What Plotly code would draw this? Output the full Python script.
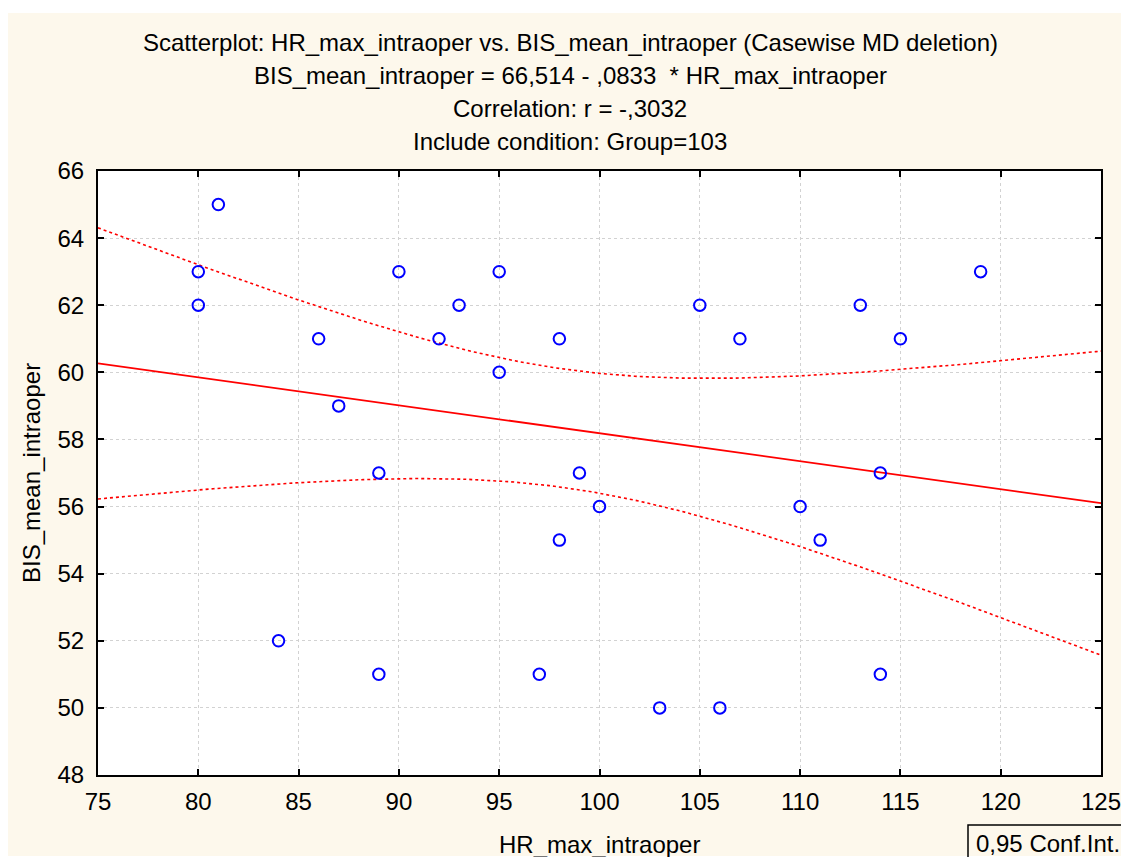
import numpy as np
import plotly.graph_objects as go

# Observations (Group=103)
hr_max = [80, 80, 81, 84, 86, 87, 89, 89, 90, 92, 93, 95, 95, 97, 98,
          98, 99, 100, 103, 105, 106, 107, 110, 111, 113, 114, 114, 115, 119]
bis_mean = [63, 62, 65, 52, 61, 59, 57, 51, 63, 61, 62, 63, 60, 51, 61,
            55, 57, 56, 50, 62, 50, 61, 56, 55, 62, 57, 51, 61, 63]

# Fitted regression as reported
intercept = 66.514
slope = -0.0833
t_crit = 2.0518  # t(0.975, df=27)

x_ticks = [75, 80, 85, 90, 95, 100, 105, 110, 115, 120, 125]
y_ticks = [48, 50, 52, 54, 56, 58, 60, 62, 64, 66]

title_lines = [
    "Scatterplot: HR_max_intraoper vs. BIS_mean_intraoper (Casewise MD deletion)",
    "BIS_mean_intraoper = 66,514 - ,0833  * HR_max_intraoper",
    "Correlation: r = -,3032",
    "Include condition: Group=103",
]
x_title = "HR_max_intraoper"
y_title = "BIS_mean_intraoper"
legend_text = "0,95 Conf.Int."

x = np.array(hr_max, dtype=float)
y = np.array(bis_mean, dtype=float)
n = len(x)
x_mean = x.mean()
sxx = ((x - x_mean) ** 2).sum()
resid = y - (intercept + slope * x)
s = np.sqrt((resid ** 2).sum() / (n - 2))

xs = np.linspace(75, 125, 201)
fit = intercept + slope * xs
half = t_crit * s * np.sqrt(1.0 / n + (xs - x_mean) ** 2 / sxx)

FONT = "Liberation Sans, Arial, sans-serif"
FS = 24
CREAM = "#FDF8EC"

# Pixel geometry of the plotting area
W, H = 1121, 857
L, R, T, B = 98, 20, 171, 82
PW, PH = W - L - R, H - T - B


def px(xp):
    return (xp - L) / PW


def py(yp):
    return (H - B - yp) / PH


fig = go.Figure()

fig.add_trace(go.Scatter(x=xs, y=fit + half, mode="lines",
                         line=dict(color="#FF0000", width=1.6, dash="dot"),
                         hoverinfo="skip"))
fig.add_trace(go.Scatter(x=xs, y=fit - half, mode="lines",
                         line=dict(color="#FF0000", width=1.6, dash="dot"),
                         hoverinfo="skip"))
fig.add_trace(go.Scatter(x=xs, y=fit, mode="lines",
                         line=dict(color="#FF0000", width=1.8),
                         hoverinfo="skip"))
fig.add_trace(go.Scatter(x=hr_max, y=bis_mean, mode="markers",
                         marker=dict(symbol="circle-open", size=11.5,
                                     color="#0000FF", line=dict(width=2))))

axis_common = dict(
    showline=True, linecolor="black", linewidth=2, mirror="ticks",
    ticks="inside", ticklen=6, tickwidth=2, tickcolor="black",
    showgrid=True, gridcolor="#D2D2D2", gridwidth=1, griddash="dot",
    zeroline=False, automargin=False, ticklabeloverflow="allow",
    tickfont=dict(family=FONT, size=FS, color="black"),
)

fig.update_xaxes(range=[75, 125], tickvals=x_ticks,
                 ticktext=[str(v) for v in x_ticks],
                 ticklabelstandoff=4, **axis_common)
fig.update_yaxes(range=[48, 66], tickvals=y_ticks,
                 ticktext=[str(v) for v in y_ticks],
                 ticklabelstandoff=7, **axis_common)

shapes = [
    # white border strips outside the cream frame (left, top, bottom)
    dict(type="rect", xref="paper", yref="paper", layer="below",
         x0=px(-20), x1=px(8), y0=py(880), y1=py(-20),
         fillcolor="white", line=dict(width=0)),
    dict(type="rect", xref="paper", yref="paper", layer="below",
         x0=px(-20), x1=px(1140), y0=py(13), y1=py(-20),
         fillcolor="white", line=dict(width=0)),
    dict(type="rect", xref="paper", yref="paper", layer="below",
         x0=px(-20), x1=px(1140), y0=py(880), y1=py(856),
         fillcolor="white", line=dict(width=0)),
    # legend box
    dict(type="rect", xref="paper", yref="paper", layer="above",
         x0=px(968), x1=px(1135), y0=py(870), y1=py(825),
         fillcolor="rgba(0,0,0,0)", line=dict(color="black", width=1.5)),
]

annotations = []
for i, line in enumerate(title_lines):
    annotations.append(dict(
        text=line, xref="paper", yref="paper", x=px(570), y=py(42 + 33 * i),
        xanchor="center", yanchor="middle", showarrow=False,
        font=dict(family=FONT, size=FS, color="black")))
annotations.append(dict(
    text=x_title, xref="paper", yref="paper", x=px(599), y=py(844),
    xanchor="center", yanchor="middle", showarrow=False,
    font=dict(family=FONT, size=FS, color="black")))
annotations.append(dict(
    text=y_title, xref="paper", yref="paper", x=px(31), y=py(473),
    xanchor="center", yanchor="middle", showarrow=False, textangle=-90,
    font=dict(family=FONT, size=FS, color="black")))
annotations.append(dict(
    text=legend_text, xref="paper", yref="paper", x=px(974), y=py(843),
    xanchor="left", yanchor="middle", showarrow=False,
    font=dict(family=FONT, size=FS, color="black")))

fig.update_layout(
    width=W, height=H,
    margin=dict(l=L, r=R, t=T, b=B),
    paper_bgcolor=CREAM, plot_bgcolor="white",
    showlegend=False,
    shapes=shapes, annotations=annotations,
)

fig.write_html("out.html")
